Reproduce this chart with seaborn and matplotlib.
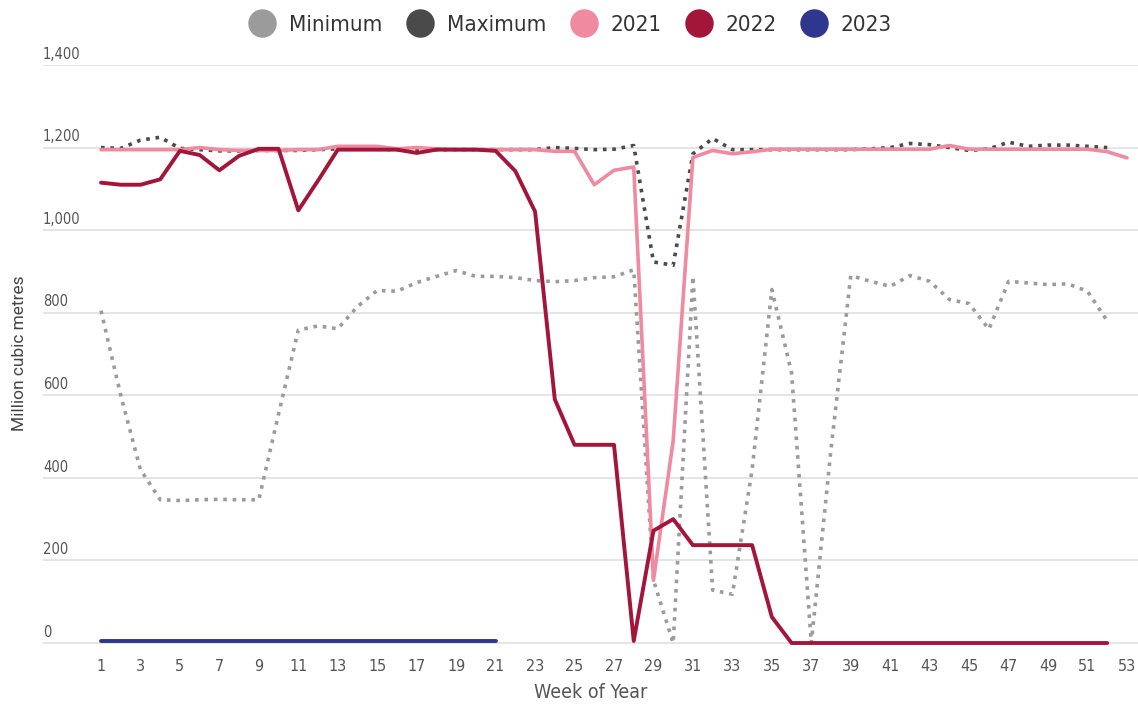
import matplotlib
matplotlib.use("Agg")
import matplotlib.pyplot as plt
from matplotlib.lines import Line2D
import matplotlib.transforms as mtransforms
from matplotlib import font_manager
import numpy as np
import pandas as pd
import seaborn as sns

# ---------------- data ----------------
weeks_all = list(range(1, 54))

minimum = [805, 600, 420, 347, 345, 347, 348, 347, 347, 555,
           758, 768, 761, 815, 854, 852, 873, 888, 902, 888,
           888, 885, 878, 875, 878, 885, 887, 904, 152, 0,
           888, 128, 118, 420, 856, 654, 0, 470, 890, 876,
           864, 890, 876, 832, 822, 760, 876, 872, 868, 870,
           852, 780]

maximum = [1200, 1198, 1218, 1225, 1198, 1195, 1192, 1192, 1193, 1193,
           1193, 1195, 1197, 1197, 1196, 1195, 1195, 1195, 1195, 1195,
           1195, 1195, 1195, 1200, 1198, 1195, 1196, 1205, 923, 915,
           1185, 1222, 1195, 1195, 1195, 1195, 1195, 1195, 1195, 1197,
           1200, 1210, 1207, 1200, 1193, 1197, 1213, 1203, 1206, 1206,
           1203, 1200]

y2021 = [1195, 1195, 1195, 1195, 1195, 1200, 1195, 1193, 1193, 1193,
         1195, 1195, 1203, 1203, 1203, 1197, 1200, 1197, 1195, 1195,
         1195, 1195, 1195, 1191, 1191, 1110, 1145, 1153, 152, 490,
         1176, 1193, 1185, 1190, 1196, 1196, 1196, 1196, 1196, 1196,
         1196, 1196, 1196, 1205, 1196, 1196, 1196, 1196, 1196, 1196,
         1196, 1190, 1175]

y2022 = [1115, 1110, 1110, 1123, 1192, 1182, 1145, 1180, 1197, 1197,
         1048, 1120, 1195, 1195, 1195, 1195, 1187, 1195, 1195, 1195,
         1192, 1143, 1045, 590, 480, 480, 480, 5, 272, 300,
         237, 237, 237, 237, 63, 0, 0, 0, 0, 0,
         0, 0, 0, 0, 0, 0, 0, 0, 0, 0,
         0, 0]

y2023 = [4, 4, 4, 4, 4, 4, 4, 4, 4, 4,
         4, 4, 4, 4, 4, 4, 4, 4, 4, 4, 4]

series_names = ["Minimum", "Maximum", "2021", "2022", "2023"]
series_values = [minimum, maximum, y2021, y2022, y2023]
colors = {"Minimum": "#9b9b9b", "Maximum": "#4a4a4a", "2021": "#ef8aa0",
          "2022": "#a3163a", "2023": "#2e3690"}

y_ticks = [0, 200, 400, 600, 800, 1000, 1200, 1400]
x_ticks = list(range(1, 54, 2))

# ---------------- build frame ----------------
rows = []
for name, vals in zip(series_names, series_values):
    for w, v in zip(weeks_all, vals):
        rows.append({"week": w, "value": v, "series": name})
df = pd.DataFrame(rows)

# ---------------- style ----------------
sns.set_style("white")
names = {f.name for f in font_manager.fontManager.ttflist}
cond_stretch = {f.name for f in font_manager.fontManager.ttflist
                if str(f.stretch) in ("condensed", "semi-condensed", "75", "87")}
if "Liberation Sans Narrow" in names:
    narrow = ["Liberation Sans Narrow", "DejaVu Sans"]
    stretch = "normal"
elif "DejaVu Sans" in cond_stretch:
    narrow = ["DejaVu Sans"]
    stretch = "condensed"
else:
    narrow = ["Roboto", "DejaVu Sans"]
    stretch = "normal"
plt.rcParams["font.family"] = narrow
plt.rcParams["font.stretch"] = stretch

W, H = 1138, 704
fig = plt.figure(figsize=(W / 100, H / 100), dpi=100)

ymin, ymax = -15, 1400
px_per_unit = (643 - 65) / 1400.0
ax_h = (ymax - ymin) * px_per_unit
ax_top = 65
ax_bottom_px = ax_top + ax_h
ax_left_px = 43
ax = fig.add_axes([ax_left_px / W, (H - ax_bottom_px) / H,
                   (W - ax_left_px) / W, ax_h / H])

# grid lines
for t in y_ticks:
    ax.axhline(t, color="#e3e3e3", lw=1.3, zorder=0)

dotted = (0, (1, 1.6))
styles = {
    "Minimum": dict(lw=2.6, linestyle=dotted),
    "Maximum": dict(lw=2.6, linestyle=dotted),
    "2021": dict(lw=2.6, linestyle="-"),
    "2022": dict(lw=2.8, linestyle="-"),
    "2023": dict(lw=2.8, linestyle="-"),
}
for i, name in enumerate(series_names):
    sub = df[df["series"] == name]
    sns.lineplot(data=sub, x="week", y="value", ax=ax, color=colors[name],
                 zorder=2 + i, legend=False, **styles[name])

ax.set_xlim(1 - (101 - ax_left_px) / 19.73, 53 + (W - 1127) / 19.73)
ax.set_ylim(ymin, ymax)

for s in ax.spines.values():
    s.set_visible(False)

ax.set_xticks(x_ticks)
ax.set_xticklabels([str(x) for x in x_ticks], fontsize=11.5, color="#555555")
ax.tick_params(axis="x", length=0, pad=7)
ax.set_yticks([])

trans = mtransforms.blended_transform_factory(ax.transAxes, ax.transData)
for t in y_ticks:
    ax.text(0.0, t + 8, f"{t:,}", transform=trans, ha="left", va="bottom",
            fontsize=10.5, color="#555555")

ax.set_xlabel("Week of Year", fontsize=14, color="#555555")
ax.xaxis.set_label_coords(0.5, (ax_bottom_px - 693) / ax_h)
ax.xaxis.label.set_va("center")

ax.set_ylabel("Million cubic metres", fontsize=12.5, color="#444444",
              family=["Roboto", "DejaVu Sans"], fontstretch="normal")
ax.yaxis.label.set_va("center")
ax.yaxis.set_label_coords((20 - ax_left_px) / (W - ax_left_px),
                          (ax_bottom_px - 353) / ax_h)

handles = [Line2D([], [], marker="o", linestyle="none", markersize=19.5,
                  markerfacecolor=colors[n], markeredgecolor=colors[n])
           for n in series_names]
fig.legend(handles, series_names, loc="center", ncol=5,
           bbox_to_anchor=(570.5 / W, 1 - 25 / H), frameon=False,
           fontsize=16, handlelength=1.2, handletextpad=0.6,
           columnspacing=1.09, labelcolor="#333333")

fig.savefig("out.png", dpi=100)
